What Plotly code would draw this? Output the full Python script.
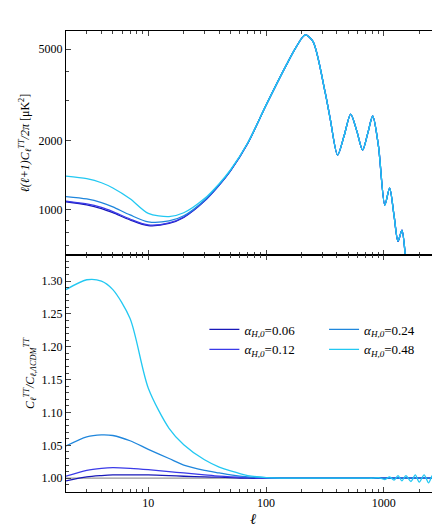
import numpy as np
import plotly.graph_objects as go
from plotly.subplots import make_subplots

# multipole grid
ell = [2, 3, 4, 5, 7, 10, 15, 20, 30, 40, 50, 70, 100, 150, 180, 215, 250, 316, 350,
       405, 460, 523, 590, 661, 730, 805, 900, 1020, 1120, 1220, 1320, 1425, 1540,
       1700, 1850, 2000, 2200, 2400, 2600, 2800, 3000]

# LCDM spectrum l(l+1)C_l/2pi [muK^2]
cl_lcdm = [1090, 1050, 1010, 968, 900, 850, 870, 925, 1090, 1280, 1480, 1950, 2850, 4300,
           5100, 5760, 5400, 3280, 2500, 1730, 2100, 2610, 2200, 1820, 2150, 2560,
           1900, 1050, 1245, 950, 731, 817, 600, 400, 300, 230, 160, 110, 80, 60, 45]

# ratios C_l / C_l,LCDM for each alpha_H0
r006 = [0.996, 1.002, 1.004, 1.005, 1.005, 1.005, 1.004, 1.003, 1.002, 1.0015, 1.001, 1.0, 1.0] + [1.0] * 28
r012 = [1.003, 1.012, 1.015, 1.016, 1.015, 1.013, 1.010, 1.008, 1.005, 1.003, 1.002, 1.001, 1.0] + [1.0] * 28
r024 = [1.049, 1.063, 1.066, 1.065, 1.057, 1.044, 1.030, 1.020, 1.012, 1.008, 1.005, 1.002, 1.001] + [1.0] * 28
r048 = [1.287, 1.302, 1.300, 1.287, 1.243, 1.137, 1.076, 1.051, 1.028, 1.017, 1.011, 1.004, 1.001,
        1.0, 1.0, 1.0, 1.0, 1.0, 1.0, 1.0, 1.0, 1.0, 1.0, 1.0, 1.0, 1.0, 1.001,
        0.998, 1.002, 0.997, 1.004, 0.996, 1.004, 0.995, 1.005, 0.994, 1.005, 0.993, 1.005, 0.993, 1.006]

labels = ['0.06', '0.12', '0.24', '0.48']
ratios = [r006, r012, r024, r048]
colors = ['#1818b8', '#3a3ae8', '#1f86dc', '#22c8f2']
legends = ['legend', 'legend', 'legend2', 'legend2']

fig = make_subplots(rows=2, cols=1, shared_xaxes=True, vertical_spacing=0,
                    row_heights=[0.486, 0.514])

base = np.array(cl_lcdm)
for lab, r, c in zip(labels, ratios, colors):
    fig.add_trace(go.Scatter(x=ell, y=base * np.array(r), mode='lines', line_shape='spline',
                             line=dict(color=c, width=1.3, smoothing=0.8), showlegend=False),
                  row=1, col=1)
fig.add_trace(go.Scatter(x=ell, y=[1.0] * len(ell), mode='lines',
                         line=dict(color='#999999', width=1.3), showlegend=False), row=2, col=1)
for lab, r, c, lg in zip(labels, ratios, colors, legends):
    fig.add_trace(go.Scatter(x=ell, y=r, mode='lines', line_shape='spline',
                             line=dict(color=c, width=1.3, smoothing=0.8), legend=lg,
                             name=f'<i>α<sub>H,0</sub></i>=' + lab), row=2, col=1)

minor_x = [2, 3, 4, 5, 6, 7, 8, 9, 20, 30, 40, 50, 60, 70, 80, 90,
           200, 300, 400, 500, 600, 700, 800, 900, 2000, 3000]
axis = dict(showline=True, linecolor='black', linewidth=1, mirror='allticks',
            ticks='inside', ticklen=5, showgrid=False, zeroline=False,
            tickfont=dict(size=12))
fig.update_xaxes(type='log', range=[np.log10(2), np.log10(3000)],
                 tickvals=[10, 100, 1000],
                 minor=dict(ticks='inside', ticklen=3, tickvals=minor_x, showgrid=False),
                 **axis)
fig.update_xaxes(title=dict(text='<i>ℓ</i>', font=dict(size=15), standoff=4), row=2, col=1)
fig.update_yaxes(type='log', range=[np.log10(637), np.log10(5990)],
                 tickvals=[1000, 2000, 5000],
                 minor=dict(ticks='inside', ticklen=3, showgrid=False,
                            tickvals=[700, 800, 900, 3000, 4000]),
                 title=dict(text='<i>ℓ(ℓ+1)C<sub>ℓ</sub><sup>TT</sup>/2π</i> [μK<sup>2</sup>]',
                            font=dict(size=12), standoff=6),
                 row=1, col=1, **axis)
fig.update_yaxes(range=[0.979, 1.3396], dtick=0.05, tickformat='.2f',
                 minor=dict(ticks='inside', ticklen=3, dtick=0.01, showgrid=False),
                 title=dict(text='<i>C<sub>ℓ</sub><sup>TT</sup>/C<sub>ℓ,ΛCDM</sub><sup>TT</sup></i>',
                            font=dict(size=12), standoff=4),
                 row=2, col=1, **axis)

leg = dict(bgcolor='rgba(0,0,0,0)', font=dict(size=13), tracegroupgap=0,
           xanchor='left', yanchor='top', itemwidth=30)
fig.update_layout(width=440, height=527, margin=dict(l=58, r=8, t=23, b=43),
                  plot_bgcolor='white', paper_bgcolor='white',
                  font=dict(family='Liberation Serif, DejaVu Serif, serif', color='black', size=12),
                  legend=dict(x=0.37, y=0.385, **leg),
                  legend2=dict(x=0.69, y=0.385, **leg))

fig.write_html('out.html')
